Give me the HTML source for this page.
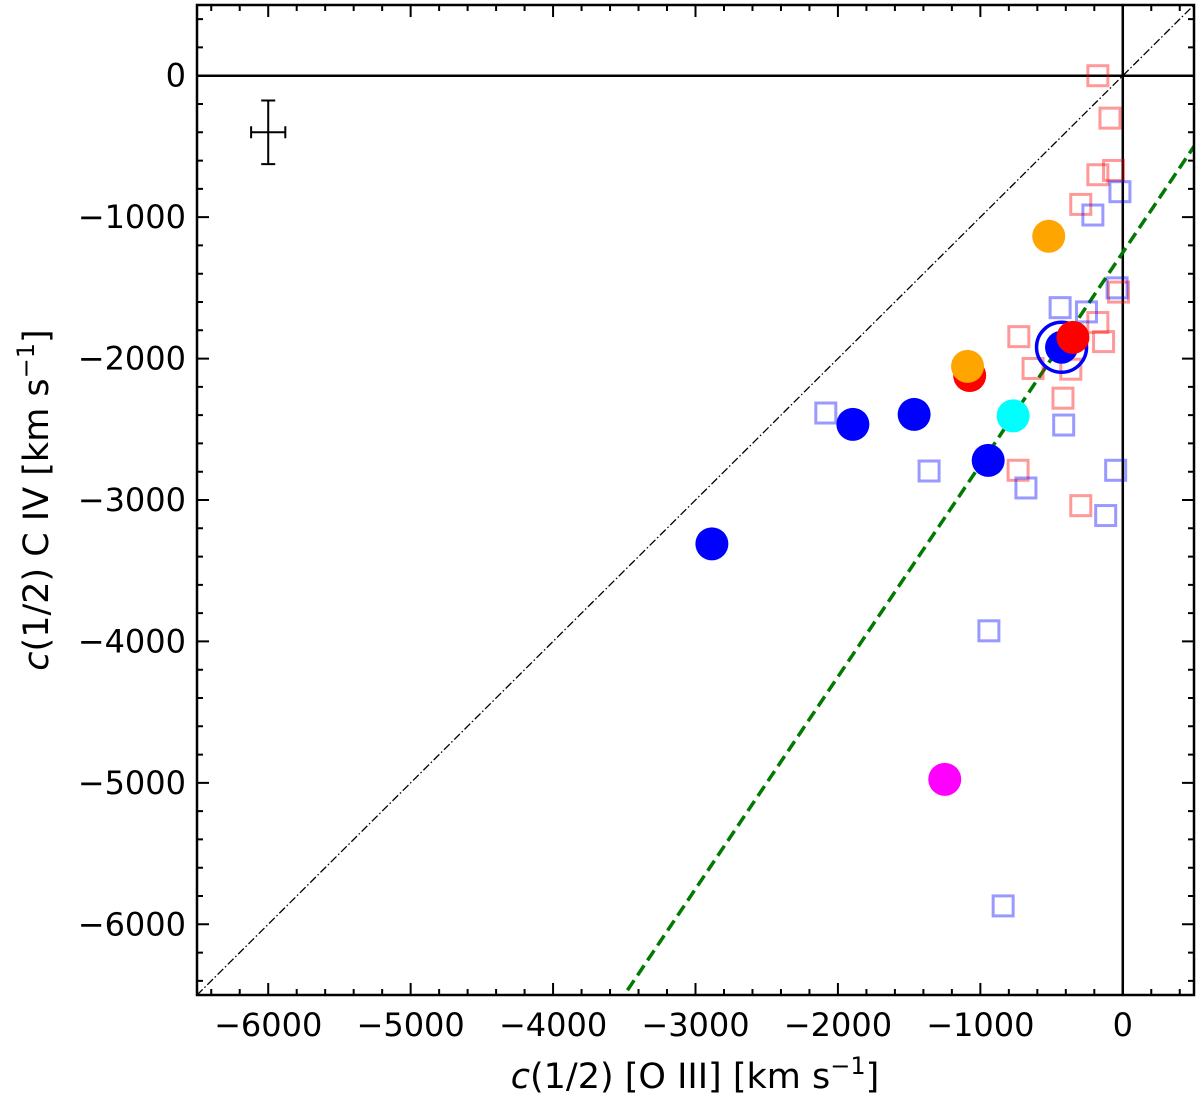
<!DOCTYPE html>
<html><head><meta charset="utf-8"><style>
html,body{margin:0;background:#fff;overflow:hidden}
svg{display:block}
svg text{font-family:"DejaVu Sans","Liberation Sans",sans-serif;fill:#000}
</style></head><body>
<svg id="chart" width="1200" height="1100" viewBox="0 0 1200 1100">
<g id="plot"></g>
<g id="axes"></g>
<text x="695" y="1088" font-size="35" text-anchor="middle"><tspan font-style="italic">c</tspan>(1/2) [O III] [km s<tspan font-size="24" dy="-14">−1</tspan><tspan dy="14">]</tspan></text>
<text transform="translate(48,500) rotate(-90)" font-size="35" text-anchor="middle"><tspan font-style="italic">c</tspan>(1/2) C IV [km s<tspan font-size="24" dy="-14">−1</tspan><tspan dy="14">]</tspan></text>
</svg>
<script>
const redSqX=[-175,-90,-65,-175,-295,-30,-175,-135,-730,-630,-365,-420,-735,-295];
const redSqY=[0,-300,-670,-700,-910,-1530,-1745,-1880,-1845,-2070,-2075,-2280,-2790,-3040];
const blueSqX=[-20,-210,-40,-440,-255,-415,-1360,-680,-50,-120,-2085,-940,-840];
const blueSqY=[-820,-985,-1500,-1640,-1670,-2470,-2795,-2915,-2790,-3110,-2385,-3925,-5870];
const dotX=[-520,-1090,-1075,-350,-430,-1895,-1465,-945,-2885,-770,-1250];
const dotY=[-1135,-2055,-2120,-1850,-1920,-2465,-2395,-2720,-3310,-2405,-4975];
const dotC=["orange","orange","red","red","blue","blue","blue","blue","blue","cyan","magenta"];
const dotOrder=[2,1,0,4,3,5,6,7,8,9,10];
const ringX=[-430], ringY=[-1920];
const fitSlope=1.5, fitIntercept=-1250;
const xTicks=[-6000,-5000,-4000,-3000,-2000,-1000,0];
const yTicks=[0,-1000,-2000,-3000,-4000,-5000,-6000];
const errX=[-6000], errY=[-400], errXHalf=[120], errYHalf=[225];

const L=197,R=1194,T=5,B=995, x0=-6500,x1=500,y0=-6500,y1=500;
const sx=v=>L+(v-x0)/(x1-x0)*(R-L);
const sy=v=>B-(v-y0)/(y1-y0)*(B-T);
const NS="http://www.w3.org/2000/svg";
const plot=document.getElementById('plot'), axes=document.getElementById('axes');
function mk(tag,attrs,parent){const e=document.createElementNS(NS,tag);for(const k in attrs)e.setAttribute(k,attrs[k]);parent.appendChild(e);return e;}
const defs=mk('defs',{},plot);const cp=mk('clipPath',{id:'c'},defs);mk('rect',{x:L,y:T,width:R-L,height:B-T},cp);
const g=mk('g',{'clip-path':'url(#c)'},plot);
let e;
e=mk('line',{x1:L,x2:R,y1:sy(0),y2:sy(0),stroke:'#000','stroke-width':2.5},g);


e=mk('line',{x1:sx(0),x2:sx(0),y1:T,y2:B,stroke:'#000','stroke-width':2.5},g);


e=mk('line',{x1:sx(-6500),y1:sy(-6500),x2:sx(500),y2:sy(500),stroke:'#000','stroke-width':1.3,'stroke-dasharray':'8 2.5 1.5 2.5'},g);


const fa=-7000,fb=600;
e=mk('line',{x1:sx(fa),y1:sy(fitSlope*fa+fitIntercept),x2:sx(fb),y2:sy(fitSlope*fb+fitIntercept),stroke:'#007a00','stroke-width':3.5,'stroke-dasharray':'12 6'},g);


const S=20;
redSqX.forEach((v,i)=>{e=mk('rect',{x:sx(v)-S/2,y:sy(redSqY[i])-S/2,width:S,height:S,fill:'none',stroke:'rgba(255,0,0,0.4)','stroke-width':3},g);

});
blueSqX.forEach((v,i)=>{e=mk('rect',{x:sx(v)-S/2,y:sy(blueSqY[i])-S/2,width:S,height:S,fill:'none',stroke:'rgba(0,0,255,0.4)','stroke-width':3},g);

});
ringX.forEach((v,i)=>{e=mk('circle',{cx:sx(v),cy:sy(ringY[i]),r:25,fill:'none',stroke:'blue','stroke-width':3.5},g);

});
dotOrder.forEach(i=>{e=mk('circle',{cx:sx(dotX[i]),cy:sy(dotY[i]),r:16.5,fill:dotC[i]},g);

});
errX.forEach((v,i)=>{const cx=sx(v),cy=sy(errY[i]);
const xa=sx(v-errXHalf[i]),xb=sx(v+errXHalf[i]),ya=sy(errY[i]+errYHalf[i]),yb=sy(errY[i]-errYHalf[i]);
e=mk('path',{d:`M${xa},${cy}H${xb}M${cx},${ya}V${yb}M${xa},${cy-6}V${cy+6}M${xb},${cy-6}V${cy+6}M${cx-7},${ya}H${cx+7}M${cx-7},${yb}H${cx+7}`,stroke:'#000','stroke-width':2,fill:'none'},g);

});
e=mk('rect',{x:L,y:T,width:R-L,height:B-T,fill:'none',stroke:'#000','stroke-width':2.5},axes);


let d='';
for(let v=-6400;v<=400;v+=200){const x=sx(v),len=(v%1000===0)?12:6;d+=`M${x},${B}v${-len}M${x},${T}v${len}`;}
for(let v=-6400;v<=400;v+=200){const y=sy(v),len=(v%1000===0)?12:6;d+=`M${L},${y}h${len}M${R},${y}h${-len}`;}
mk('path',{d:d,stroke:'#000','stroke-width':2},axes);
xTicks.forEach(v=>{e=mk('text',{x:sx(v),y:1036,'font-size':32,'text-anchor':'middle'},axes);e.textContent=v<0?'−'+(-v):String(v);

});
yTicks.forEach(v=>{e=mk('text',{x:186,y:sy(v)+11,'font-size':32,'text-anchor':'end'},axes);e.textContent=v<0?'−'+(-v):String(v);

});
</script>
</body></html>
